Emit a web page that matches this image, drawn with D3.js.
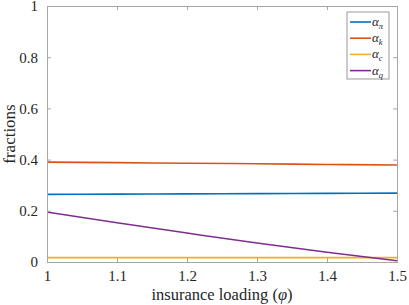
<!DOCTYPE html>
<html>
<head>
<meta charset="utf-8">
<script src="https://cdn.jsdelivr.net/npm/d3@7"></script>
<style>
  body { margin: 0; background: #fff; }
  text { font-family: "Liberation Serif", "DejaVu Serif", serif; }
</style>
</head>
<body>
<svg id="chart" width="409" height="305"></svg>
<script>
const loading = [1, 1.1, 1.2, 1.3, 1.4, 1.5];
const alphaPi = [0.264, 0.265, 0.266, 0.267, 0.268, 0.269];
const alphaK = [0.390, 0.388, 0.386, 0.384, 0.381, 0.379];
const alphaC = [0.017, 0.017, 0.017, 0.017, 0.017, 0.017];
const alphaQ = [0.195, 0.153, 0.113, 0.074, 0.038, 0.005];
const xTicks = [1, 1.1, 1.2, 1.3, 1.4, 1.5];
const yTicks = [0, 0.2, 0.4, 0.6, 0.8, 1];

const series = [
  { name: 'π', values: alphaPi, color: '#0072BD' },
  { name: 'k', values: alphaK, color: '#D95319' },
  { name: 'c', values: alphaC, color: '#EDB120' },
  { name: 'q', values: alphaQ, color: '#7E2F8E' }
];

const svg = d3.select('#chart');
const margin = { top: 6, right: 12, bottom: 43, left: 47 };
const width = 409, height = 305;
const innerW = width - margin.left - margin.right;
const innerH = height - margin.top - margin.bottom;

const x = d3.scaleLinear().domain([1, 1.5]).range([margin.left, margin.left + innerW]);
const y = d3.scaleLinear().domain([0, 1]).range([margin.top + innerH, margin.top]);

const axisColor = '#a6a6a6';
const labelColor = '#262626';
const serif = '"Liberation Serif", "DejaVu Serif", serif';

// series
const line = d3.line()
  .x((d, i) => x(loading[i]))
  .y(d => y(d))
  .curve(d3.curveMonotoneX);

svg.append('g')
  .selectAll('path')
  .data(series)
  .enter()
  .append('path')
    .attr('d', s => line(s.values))
    .attr('fill', 'none')
    .attr('stroke', s => s.color)
    .attr('stroke-width', 1.6);

// axes, ticks inside like matlab
const tickLen = 4;
const styleAxis = g => {
  g.attr('font-family', serif).attr('font-size', 15);
  g.select('.domain').attr('stroke', axisColor);
  g.selectAll('.tick line').attr('stroke', axisColor);
  g.selectAll('.tick text')
    .attr('fill', labelColor)
    .style('font-family', serif);
};

svg.append('g')
  .attr('transform', `translate(0,${y(0)})`)
  .call(d3.axisBottom(x).tickValues(xTicks).tickFormat(d3.format('')).tickSize(-tickLen).tickPadding(8).tickSizeOuter(0))
  .call(styleAxis);

svg.append('g')
  .attr('transform', `translate(0,${y(1)})`)
  .call(d3.axisTop(x).tickValues(xTicks).tickFormat('').tickSize(-tickLen).tickSizeOuter(0))
  .call(styleAxis);

svg.append('g')
  .attr('transform', `translate(${x(1)},0)`)
  .call(d3.axisLeft(y).tickValues(yTicks).tickFormat(d3.format('')).tickSize(-tickLen).tickPadding(9).tickSizeOuter(0))
  .call(styleAxis);

svg.append('g')
  .attr('transform', `translate(${x(1.5)},0)`)
  .call(d3.axisRight(y).tickValues(yTicks).tickFormat('').tickSize(-tickLen).tickSizeOuter(0))
  .call(styleAxis);

// axis titles
svg.append('text')
  .attr('x', x(1.25))
  .attr('y', 300)
  .attr('text-anchor', 'middle')
  .attr('font-size', 16.5)
  .attr('fill', labelColor)
  .html('insurance loading (<tspan font-style="italic">φ</tspan>)');

svg.append('text')
  .attr('transform', `translate(15,${y(0.5)}) rotate(-90)`)
  .attr('text-anchor', 'middle')
  .attr('font-size', 17)
  .attr('fill', labelColor)
  .text('fractions');

// legend
const legend = svg.append('g').attr('transform', 'translate(347,12)');
legend.append('rect')
  .attr('width', 42)
  .attr('height', 67)
  .attr('fill', '#fff')
  .attr('stroke', '#7f7f7f')
  .attr('stroke-width', 0.8);

const rows = legend.selectAll('g.row')
  .data(series)
  .enter()
  .append('g')
    .attr('transform', (d, i) => `translate(0,${10 + i * 16.2})`);

rows.append('line')
  .attr('x1', 3).attr('x2', 24)
  .attr('stroke', d => d.color)
  .attr('stroke-width', 1.6);

const lbl = rows.append('text')
  .attr('x', 25)
  .attr('y', 4)
  .attr('font-size', 13)
  .attr('font-style', 'italic')
  .attr('fill', labelColor);
lbl.append('tspan').text('α');
lbl.append('tspan').attr('font-size', 8.5).attr('dy', 3).text(d => d.name);
</script>
</body>
</html>
